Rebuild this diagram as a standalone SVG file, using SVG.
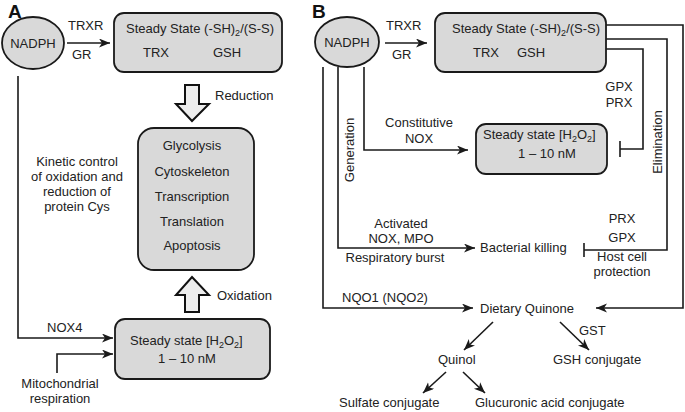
<svg xmlns="http://www.w3.org/2000/svg" width="685" height="412" viewBox="0 0 685 412">
<style>
text{font-family:"Liberation Sans",Arial,sans-serif;font-size:13px;fill:#222}
.m{text-anchor:middle}
.lbl{font-size:19px;font-weight:bold;fill:#111}
.node{fill:#d9d9d9;stroke:#1a1a1a;stroke-width:1.8}
.ln{fill:none;stroke:#1a1a1a;stroke-width:1.6}
.arr{marker-end:url(#ah)}
.hollow{fill:#ededed;stroke:#111;stroke-width:2;stroke-linejoin:miter}
.sub{font-size:9px}
</style>
<defs>
<marker id="ah" markerWidth="12" markerHeight="10" refX="11" refY="4.5" orient="auto" markerUnits="userSpaceOnUse">
<path d="M0,0 L11,4.5 L0,9 L3,4.5 z" fill="#1a1a1a"/>
</marker>
</defs>

<text class="lbl" x="8" y="18">A</text>
<text class="lbl" x="312" y="18">B</text>

<g id="nadph-a"><ellipse class="node" cx="33" cy="43" rx="31" ry="26"/><text class="m" x="33" y="48">NADPH</text></g>
<g id="steady-sh-a"><rect class="node" x="114" y="13" width="168" height="59" rx="10"/>
<text x="126" y="33">Steady State (-SH)<tspan class="sub" dy="3">2</tspan><tspan dy="-3">/(S-S)</tspan></text>
<text x="143" y="57">TRX</text><text x="213" y="57">GSH</text></g>
<g id="proteins-a"><rect class="node" x="138" y="128" width="116" height="142" rx="16"/>
<text class="m" x="192" y="150">Glycolysis</text>
<text class="m" x="192" y="176">Cytoskeleton</text>
<text class="m" x="192" y="201">Transcription</text>
<text class="m" x="192" y="226">Translation</text>
<text class="m" x="192" y="250">Apoptosis</text></g>
<g id="h2o2-a"><rect class="node" x="115" y="319" width="155" height="60" rx="10"/>
<text x="130" y="345">Steady state [H<tspan class="sub" dy="3">2</tspan><tspan dy="-3">O</tspan><tspan class="sub" dy="3">2</tspan><tspan dy="-3">]</tspan></text>
<text class="m" x="187" y="363">1 – 10 nM</text></g>
<g id="kinetic-a">
<text class="m" x="77" y="166">Kinetic control</text>
<text class="m" x="77" y="181">of oxidation and</text>
<text class="m" x="77" y="196">reduction of</text>
<text class="m" x="77" y="211">protein Cys</text></g>
<g id="mito-a"><text class="m" x="60" y="388">Mitochondrial</text><text class="m" x="60" y="403">respiration</text></g>

<g id="nadph-b"><ellipse class="node" cx="347" cy="42" rx="32" ry="25"/><text class="m" x="347" y="47">NADPH</text></g>
<g id="steady-sh-b"><rect class="node" x="435" y="13" width="171" height="59" rx="10"/>
<text x="452" y="33">Steady State (-SH)<tspan class="sub" dy="3">2</tspan><tspan dy="-3">/(S-S)</tspan></text>
<text x="473" y="57">TRX</text><text x="517" y="57">GSH</text></g>
<g id="h2o2-b"><rect class="node" x="476" y="124" width="131" height="50" rx="10"/>
<text x="483" y="139">Steady state [H<tspan class="sub" dy="3">2</tspan><tspan dy="-3">O</tspan><tspan class="sub" dy="3">2</tspan><tspan dy="-3">]</tspan></text>
<text class="m" x="547" y="158">1 – 10 nM</text></g>
<g id="bacterial-b"><text x="480" y="252">Bacterial killing</text></g>
<g id="quinone-b"><text x="480" y="313">Dietary Quinone</text></g>
<g id="quinol-b"><text x="438" y="364">Quinol</text></g>
<g id="gshconj-b"><text x="553" y="364">GSH conjugate</text></g>
<g id="sulfate-b"><text x="339" y="407">Sulfate conjugate</text></g>
<g id="glucuronic-b"><text x="475" y="407">Glucuronic acid conjugate</text></g>

<g id="connectors">
<path class="ln arr" d="M67,43 H110"/>
<path class="ln arr" d="M18,76 V338 H113"/>
<path class="ln arr" d="M57,373 V354 H113"/>
<path class="hollow" d="M185,85 H199 V104 H209 L192,121 L176,104 H185 Z"/>
<path class="hollow" d="M185,312 H199 V295 H209 L192,277 L176,295 H185 Z"/>

<path class="ln arr" d="M385,43 H427"/>
<path class="ln arr" d="M323,67 V308 H473"/>
<path class="ln arr" d="M338,67 V248 H475"/>
<path class="ln arr" d="M364,67 V150 H468"/>
<path class="ln arr" d="M606,25 H683 V308 H596"/>
<path class="ln" d="M606,39 H667 V250 H584 M584,243 V257"/>
<path class="ln" d="M606,49 H643 V149 H620 M620,141 V157"/>
<path class="ln arr" d="M493,322 L464,350"/>
<path class="ln arr" d="M560,322 L589,350"/>
<path class="ln arr" d="M446,372 L423,393"/>
<path class="ln arr" d="M463,372 L485,393"/>
</g>

<g id="edge-labels">
<text x="68" y="30">TRXR</text><text x="72" y="59">GR</text>
<text x="215" y="100">Reduction</text>
<text x="217" y="300">Oxidation</text>
<text x="47" y="332">NOX4</text>
<text x="386" y="30">TRXR</text><text x="392" y="59">GR</text>
<text class="m" transform="translate(354,150) rotate(-90)">Generation</text>
<text class="m" transform="translate(662,142) rotate(-90)">Elimination</text>
<text class="m" x="419" y="127">Constitutive</text><text class="m" x="419" y="143">NOX</text>
<text class="m" x="401" y="228">Activated</text><text class="m" x="401" y="243">NOX, MPO</text>
<text class="m" x="395" y="262">Respiratory burst</text>
<text class="m" x="619" y="91">GPX</text><text class="m" x="619" y="107">PRX</text>
<text class="m" x="622" y="223">PRX</text><text class="m" x="622" y="242">GPX</text>
<text class="m" x="622" y="261">Host cell</text><text class="m" x="622" y="276">protection</text>
<text x="342" y="302">NQO1 (NQO2)</text>
<text x="579" y="335">GST</text>
</g>
</svg>
